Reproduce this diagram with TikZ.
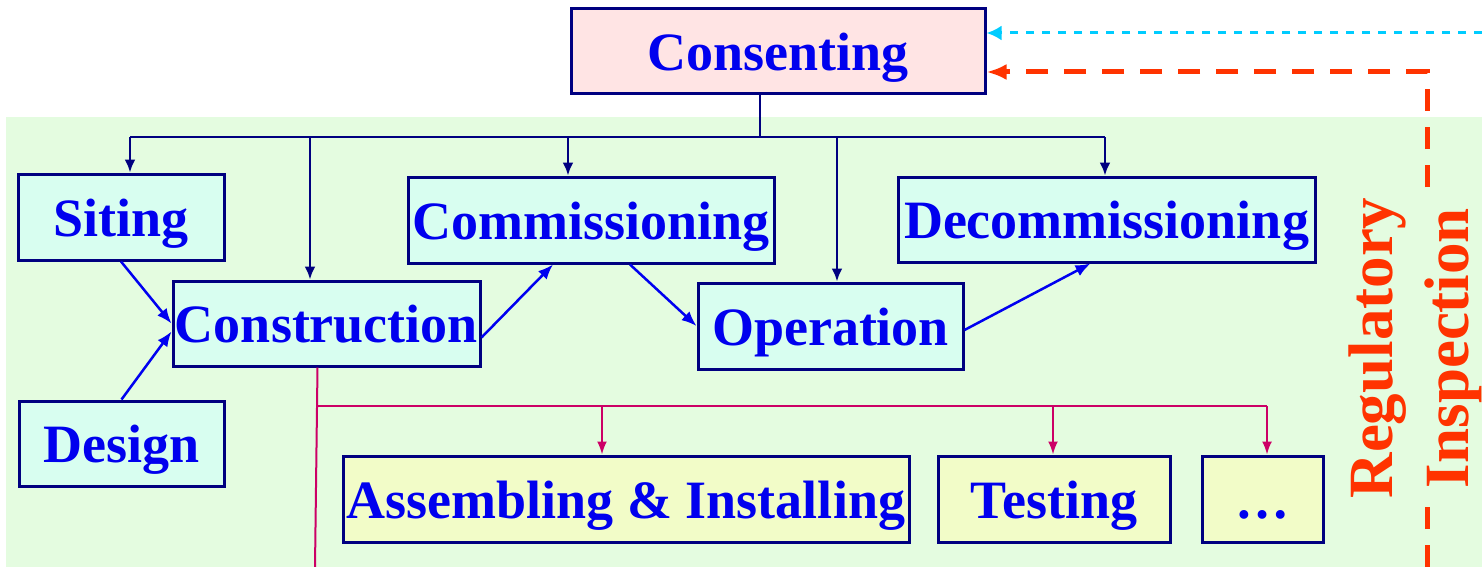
\documentclass[tikz,border=0pt]{standalone}
\usepackage{fontspec}
\setmainfont{Liberation Serif}
\usetikzlibrary{arrows.meta,calc}
\definecolor{bgGreen}{HTML}{E4FCE0}
\definecolor{boxCyan}{HTML}{D8FEF0}
\definecolor{boxYellow}{HTML}{F2FCC8}
\definecolor{boxPink}{HTML}{FFE4E4}
\definecolor{navyLine}{HTML}{000080}
\definecolor{txtBlue}{HTML}{0000EE}
\definecolor{arrBlue}{HTML}{0000F0}
\definecolor{pinkLine}{HTML}{CC0066}
\definecolor{orangeRed}{HTML}{FF3300}
\definecolor{cyanLine}{HTML}{00CCFF}
\tikzset{
  boxbase/.style={draw=navyLine, line width=3pt, inner sep=0pt, text=txtBlue,
    text height=38pt, text depth=0pt,
    font=\fontsize{54}{60}\selectfont\bfseries},
  cbox/.style={boxbase, fill=boxCyan},
  ybox/.style={boxbase, fill=boxYellow},
  pbox/.style={boxbase, fill=boxPink},
  busline/.style={draw=navyLine, line width=2.5pt},
  busarrow/.style={busline, -{Latex[length=13pt,width=11pt]}},
  flowarrow/.style={draw=arrBlue, line width=2.5pt, -{Latex[length=15pt,width=12pt]}},
  subline/.style={draw=pinkLine, line width=2pt},
  subarrow/.style={subline, -{Latex[length=13pt,width=10pt]}},
  inspline/.style={draw=orangeRed, line width=5pt, dash pattern=on 22pt off 16pt},
  cyanline/.style={draw=cyanLine, line width=3pt, dash pattern=on 8pt off 8pt},
}
\begin{document}
\begin{tikzpicture}[x=1pt,y=-1pt]
\useasboundingbox (0,0) rectangle (1482,567);
\fill[white] (0,0) rectangle (1482,567);
\fill[bgGreen] (6,117) rectangle (1482,567);

% nodes
\node[pbox, minimum width=414pt, minimum height=85pt] (cons) at (778,51.5) {Consenting};
\node[cbox, minimum width=206pt, minimum height=86pt] (siting) at (121,217) {Siting};
\node[cbox, minimum width=366pt, minimum height=86pt] (comm) at (591,220) {Commissioning};
\node[cbox, minimum width=417pt, minimum height=85pt] (decomm) at (1106.5,219.5) {Decommissioning};
\node[cbox, minimum width=307pt, minimum height=85pt] (constr) at (326.5,323.5) {Construction};
\node[cbox, minimum width=265pt, minimum height=86pt] (oper) at (830.5,326) {Operation};
\node[cbox, minimum width=205pt, minimum height=85pt] (design) at (121.5,443.5) {Design};
\node[ybox, minimum width=566pt, minimum height=86pt] (asm) at (626,499) {Assembling \& Installing};
\node[ybox, minimum width=232pt, minimum height=86pt] (test) at (1054,499) {Testing};
\node[ybox, minimum width=121pt, minimum height=86pt] (dots) at (1262.5,499) {\ldots};

% top bus
\coordinate (bC) at (760,137);
\coordinate (b1) at (130,137);
\coordinate (b2) at (310,137);
\coordinate (b3) at (568,137);
\coordinate (b4) at (837,137);
\coordinate (b5) at (1105,137);
\draw[busline] (cons.south -| bC) -- (bC);
\draw[busline] (b1) -- (b5);
\draw[busarrow] (b1) -- (b1 |- siting.north);
\draw[busarrow] (b2) -- (b2 |- constr.north);
\draw[busarrow] (b3) -- (b3 |- comm.north);
\draw[busarrow] (b4) -- (b4 |- oper.north);
\draw[busarrow] (b5) -- (b5 |- decomm.north);

% flow arrows
\draw[flowarrow] (siting.south) -- (constr.west);
\draw[flowarrow] (design.north) -- ($(constr.west)+(0,8)$);
\draw[flowarrow] ($(constr.east)+(0,14)$) -- ($(comm.south)+(-38,0)$);
\draw[flowarrow] ($(comm.south)+(39,0)$) -- (oper.west);
\draw[flowarrow] ($(oper.east)+(0,4)$) -- ($(decomm.south)+(-16,0)$);

% construction sub-bus
\coordinate (sTop) at ($(constr.south)+(-9,0)$);
\coordinate (sBot) at (315,567);
\coordinate (s0) at (317,406);
\coordinate (s1) at (602,406);
\coordinate (s2) at (1053,406);
\coordinate (s3) at (1267,406);
\draw[subline] (sTop) -- (sBot);
\draw[subline] (s0) -- (s3);
\draw[subarrow] (s1) -- (s1 |- asm.north);
\draw[subarrow] (s2) -- (s2 |- test.north);
\draw[subarrow] (s3) -- (s3 |- dots.north);

% regulatory inspection
\coordinate (iBot) at (1427,567);
\coordinate (iCorner) at (1427,72);
\draw[inspline, -{Latex[length=20pt,width=16pt]}] (iBot) -- (iCorner) -- (cons.east |- iCorner);
\coordinate (cStart) at (1482,33);
\draw[cyanline, -{Latex[length=15pt,width=15pt]}] (cStart) -- (cons.east |- cStart);
\node[fill=bgGreen, rotate=90, align=center, inner sep=6pt, text=orangeRed,
  font=\fontsize{63}{76}\selectfont\bfseries] (reg) at (1415,348) {Regulatory\\Inspection};
\end{tikzpicture}
\end{document}
